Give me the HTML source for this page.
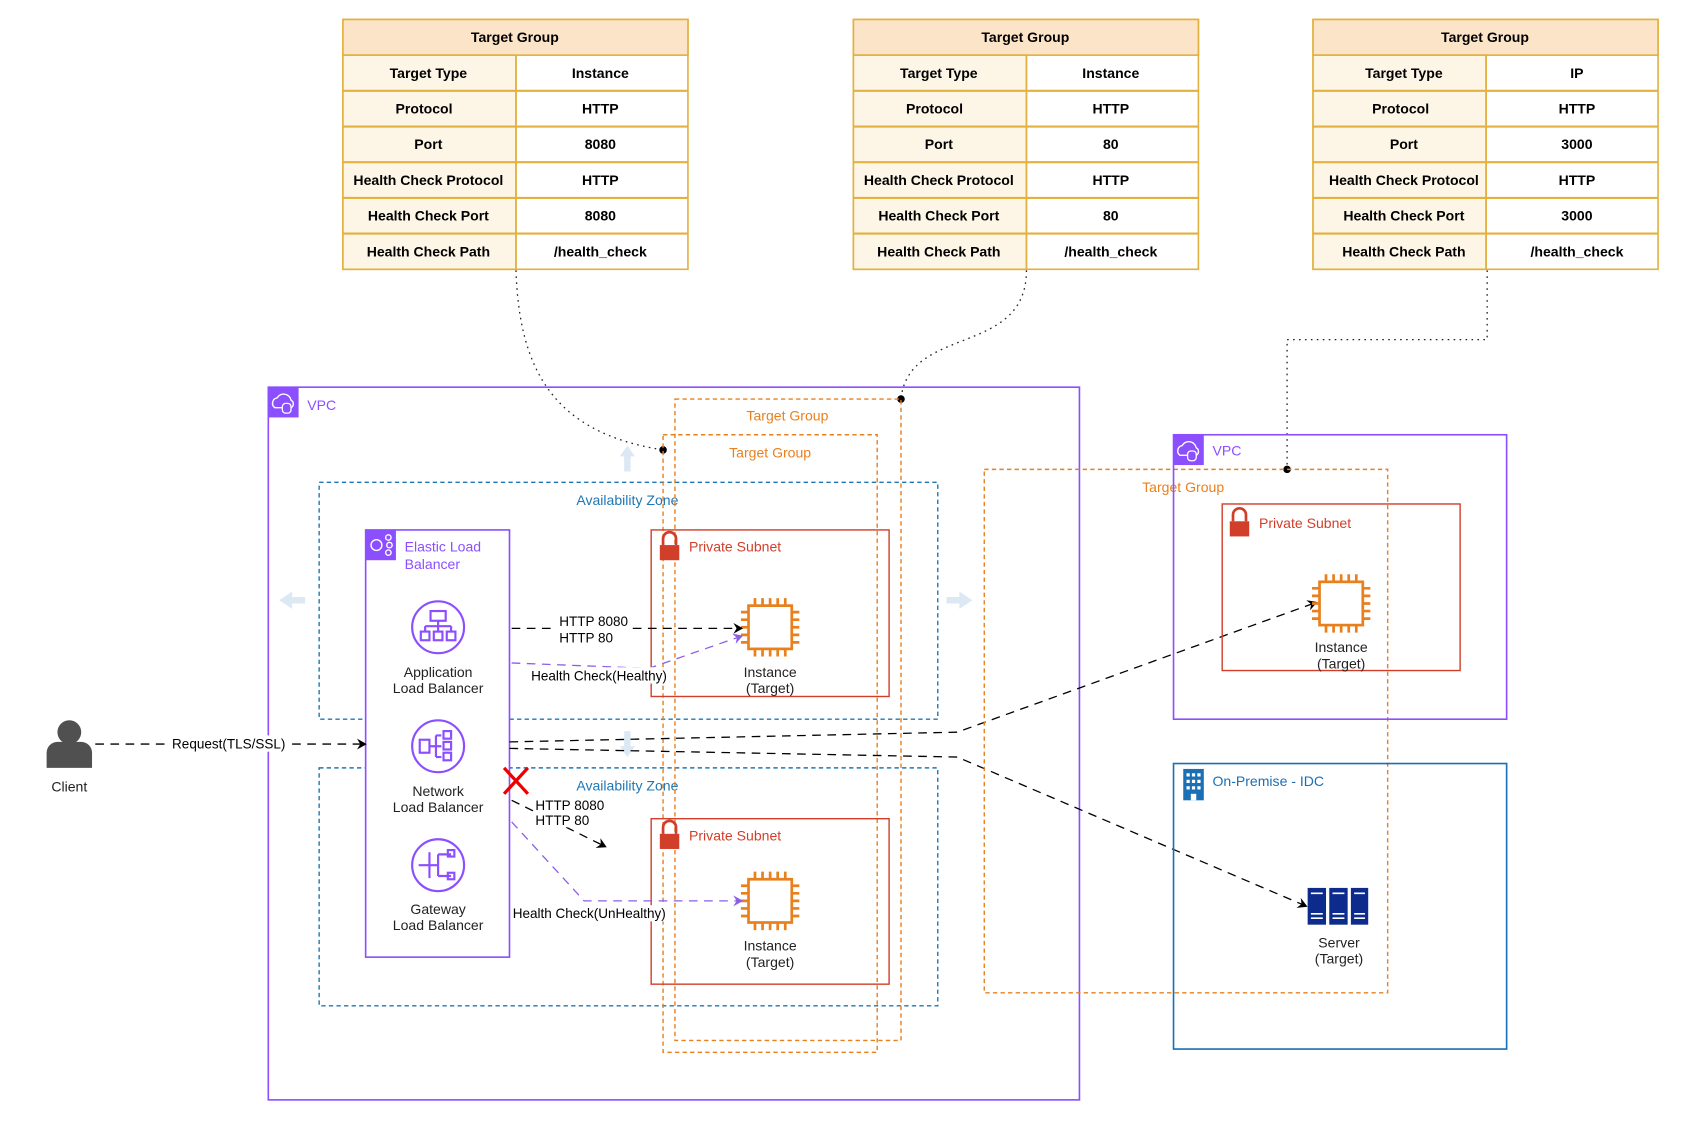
<!DOCTYPE html>
<html><head><meta charset="utf-8"><style>
html,body{margin:0;padding:0;background:#fff;}
svg{display:block;}
text{font-family:"Liberation Sans",sans-serif;}
</style></head><body>
<svg width="1696" height="1128" viewBox="0 0 1568 1043" xmlns="http://www.w3.org/2000/svg">
<defs>
<marker id="ab" markerWidth="10" markerHeight="10" refX="8" refY="5" orient="auto" markerUnits="userSpaceOnUse"><path d="M0,0 L9,5 L0,10 L3,5z" fill="#000"/></marker>
<marker id="ap" markerWidth="10" markerHeight="10" refX="8" refY="5" orient="auto" markerUnits="userSpaceOnUse"><path d="M0,0 L9,5 L0,10 L3,5z" fill="#8c5ee8"/></marker>
<g id="chip"><g stroke="#e8801e" stroke-width="2.5" fill="none"><rect x="-20" y="-20" width="40" height="40" fill="#fff"/><path d="M-14,-20v-7M-7,-20v-7M0,-20v-7M7,-20v-7M14,-20v-7M-14,20v7M-7,20v7M0,20v7M7,20v7M14,20v7M-20,-14h-7M-20,-7h-7M-20,0h-7M-20,7h-7M-20,14h-7M20,-14h7M20,-7h7M20,0h7M20,7h7M20,14h7"/></g></g>
<g id="lock"><path d="M-6,0v-6a6,6 0 0 1 12,0v6" stroke="#d13f2a" stroke-width="2.5" fill="none"/><rect x="-9" y="0" width="18" height="14" fill="#d13f2a"/></g>
<g id="vpc"><rect x="0" y="0" width="28" height="28" fill="#8c4fff"/><path d="M6,19a5,5 0 0 1 2,-9a7,7 0 0 1 13,2a4,4 0 0 1 0,7z" stroke="#fff" fill="none" stroke-width="1.3"/><rect x="13" y="15" width="8" height="9" rx="3" stroke="#fff" fill="#8c4fff" stroke-width="1.2"/></g>
</defs>

<!-- Tables -->
<g font-size="13" text-anchor="middle" font-weight="bold">
<g id="t1">
<rect x="317" y="18" width="319" height="231" fill="#fff" stroke="#e3b13f" stroke-width="1.5"/>
<rect x="317" y="18" width="319" height="33" fill="#fce4c8" stroke="#e3b13f" stroke-width="1.5"/>
<rect x="317" y="51" width="160" height="198" fill="#fdf5e6" stroke="#e3b13f" stroke-width="1.5"/>
<path d="M317,84H636M317,117H636M317,150H636M317,183H636M317,216H636" stroke="#e3b13f" stroke-width="2"/>
<line x1="477" y1="51" x2="477" y2="249" stroke="#e3b13f" stroke-width="1.5"/>
</g>
<use href="#t1" x="472"/><use href="#t1" x="897"/>
<text x="476" y="39">Target Group</text>
<g transform="translate(0,0)"><text x="396" y="72">Target Type</text><text x="392" y="105">Protocol</text><text x="396" y="138">Port</text><text x="396" y="171">Health Check Protocol</text><text x="396" y="204">Health Check Port</text><text x="396" y="237">Health Check Path</text>
<text x="555" y="72">Instance</text><text x="555" y="105">HTTP</text><text x="555" y="138">8080</text><text x="555" y="171">HTTP</text><text x="555" y="204">8080</text><text x="555" y="237">/health_check</text></g>
<text x="948" y="39">Target Group</text>
<text x="868" y="72">Target Type</text><text x="864" y="105">Protocol</text><text x="868" y="138">Port</text><text x="868" y="171">Health Check Protocol</text><text x="868" y="204">Health Check Port</text><text x="868" y="237">Health Check Path</text>
<text x="1027" y="72">Instance</text><text x="1027" y="105">HTTP</text><text x="1027" y="138">80</text><text x="1027" y="171">HTTP</text><text x="1027" y="204">80</text><text x="1027" y="237">/health_check</text>
<text x="1373" y="39">Target Group</text>
<text x="1298" y="72">Target Type</text><text x="1295" y="105">Protocol</text><text x="1298" y="138">Port</text><text x="1298" y="171">Health Check Protocol</text><text x="1298" y="204">Health Check Port</text><text x="1298" y="237">Health Check Path</text>
<text x="1458" y="72">IP</text><text x="1458" y="105">HTTP</text><text x="1458" y="138">3000</text><text x="1458" y="171">HTTP</text><text x="1458" y="204">3000</text><text x="1458" y="237">/health_check</text>
</g>

<!-- dotted links -->
<g stroke="#222" stroke-width="1.2" stroke-dasharray="1.5,4" fill="none">
<path d="M477,250 C480,340 510,400 613,416"/>
<path d="M949,250 C949,330 840,300 833,369"/>
<path d="M1375,250 V314 H1190 V434"/>
</g>
<circle cx="613" cy="416" r="3.5"/><circle cx="833" cy="369" r="3.5"/><circle cx="1190" cy="434" r="3.5"/>

<!-- VPC 1 -->
<rect x="248" y="358" width="750" height="659" fill="none" stroke="#8c4fff" stroke-width="1.5"/>
<use href="#vpc" x="248" y="358"/>
<text x="284" y="379" font-size="13" fill="#8c4fff">VPC</text>

<!-- AZs -->
<rect x="295" y="446" width="572" height="219" fill="none" stroke="#1f77b4" stroke-width="1.3" stroke-dasharray="4,3"/>
<rect x="295" y="710" width="572" height="220" fill="none" stroke="#1f77b4" stroke-width="1.3" stroke-dasharray="4,3"/>
<text x="580" y="467" font-size="13" fill="#1f77b4" text-anchor="middle">Availability Zone</text>
<text x="580" y="731" font-size="13" fill="#1f77b4" text-anchor="middle">Availability Zone</text>

<!-- faint arrows -->
<g fill="#dce9f5"><path d="M258,555 l12,-8v5h12v6h-12v5z"/><path d="M899,555 l-12,-8v5h-12v6h12v5z"/><path d="M580,412 l-7,10h4v14h6v-14h4z"/><path d="M580,700 l-7,-10h4v-14h6v14h4z"/></g>

<!-- Target groups -->
<rect x="624" y="369" width="209" height="593" fill="none" stroke="#e8801e" stroke-width="1.3" stroke-dasharray="4,3"/>
<rect x="613" y="402" width="198" height="571" fill="none" stroke="#e8801e" stroke-width="1.3" stroke-dasharray="4,3"/>
<text x="728" y="389" font-size="13" fill="#e8801e" text-anchor="middle">Target Group</text>
<text x="712" y="423" font-size="13" fill="#e8801e" text-anchor="middle">Target Group</text>

<!-- Subnets -->
<rect x="602" y="490" width="220" height="154" fill="none" stroke="#d13f2a" stroke-width="1.3"/>
<rect x="602" y="757" width="220" height="153" fill="none" stroke="#d13f2a" stroke-width="1.3"/>
<use href="#lock" x="619" y="504"/><use href="#lock" x="619" y="771"/>
<text x="637" y="510" font-size="13" fill="#d13f2a">Private Subnet</text>
<text x="637" y="777" font-size="13" fill="#d13f2a">Private Subnet</text>
<use href="#chip" x="712" y="580"/><use href="#chip" x="712" y="833"/>
<g font-size="13" text-anchor="middle" fill="#222"><text x="712" y="626">Instance</text><text x="712" y="641">(Target)</text><text x="712" y="879">Instance</text><text x="712" y="894">(Target)</text></g>

<!-- ELB -->
<rect x="338" y="490" width="133" height="395" fill="#fff" stroke="#8c4fff" stroke-width="1.5"/>
<rect x="338" y="490" width="28" height="28" fill="#8c4fff"/>
<g stroke="#fff" fill="none" stroke-width="1.3"><circle cx="348" cy="504" r="5"/><circle cx="359" cy="497" r="2.5"/><circle cx="360" cy="504" r="2.5"/><circle cx="359" cy="511" r="2.5"/></g>
<text x="374" y="510" font-size="13" fill="#8c4fff">Elastic Load</text><text x="374" y="526" font-size="13" fill="#8c4fff">Balancer</text>
<g stroke="#8c4fff" stroke-width="2" fill="none">
<circle cx="405" cy="580" r="24"/><circle cx="405" cy="690" r="24"/><circle cx="405" cy="800" r="24"/>
<rect x="398" y="565" width="14" height="9"/><path d="M405,574v5M393,579h24M393,579v5M405,579v5M417,579v5"/><rect x="389" y="584" width="8" height="8"/><rect x="401" y="584" width="8" height="8"/><rect x="413" y="584" width="8" height="8"/>
<rect x="388" y="684" width="9" height="12"/><path d="M397,690h6M403,680v20M403,680h5M403,690h5M403,700h5"/><rect x="410" y="676" width="7" height="7"/><rect x="410" y="686" width="7" height="7"/><rect x="410" y="696" width="7" height="7"/>
<path d="M387,800h10M397,788v24M397,800h8M405,790h12M405,810h12M405,790v20"/><rect x="414" y="786" width="6" height="6"/><rect x="414" y="807" width="6" height="6"/>
</g>
<g font-size="13" text-anchor="middle" fill="#222"><text x="405" y="626">Application</text><text x="405" y="641">Load Balancer</text><text x="405" y="736">Network</text><text x="405" y="751">Load Balancer</text><text x="405" y="845">Gateway</text><text x="405" y="860">Load Balancer</text></g>

<!-- Client -->
<circle cx="64" cy="677" r="11" fill="#505050"/><path d="M43,710 v-14 a10,10 0 0 1 10,-10 h22 a10,10 0 0 1 10,10 v14z" fill="#505050"/>
<text x="64" y="732" font-size="13" text-anchor="middle" fill="#222">Client</text>

<!-- Connectors -->
<g stroke="#000" stroke-width="1.2" stroke-dasharray="8,6" fill="none">
<path d="M88,688 H338" marker-end="url(#ab)"/>
<path d="M473,581 H686" marker-end="url(#ab)"/>
<path d="M473,740 L560,783" marker-end="url(#ab)"/>
<path d="M471,686 L885,677 L1217,557" marker-end="url(#ab)"/>
<path d="M471,692 L885,700 L1208,838" marker-end="url(#ab)"/>
</g>
<g stroke="#8c5ee8" stroke-width="1.2" stroke-dasharray="8,6" fill="none">
<path d="M473,613 L600,618 L686,588" marker-end="url(#ap)"/>
<path d="M473,760 L540,833 L686,833" marker-end="url(#ap)"/>
</g>
<g font-size="12.5" fill="#000">
<rect x="157" y="680" width="110" height="15" fill="#fff"/><text x="159" y="692">Request(TLS/SSL)</text>
<rect x="513" y="566" width="70" height="30" fill="#fff"/><text x="517" y="579">HTTP 8080</text><text x="517" y="594">HTTP 80</text>
<rect x="490" y="617" width="130" height="15" fill="#fff"/><text x="491" y="629">Health Check(Healthy)</text>
<rect x="493" y="737" width="70" height="28" fill="#fff"/><text x="495" y="749">HTTP 8080</text><text x="495" y="763">HTTP 80</text>
<rect x="472" y="837" width="146" height="15" fill="#fff"/><text x="474" y="849">Health Check(UnHealthy)</text>
</g>
<path d="M466,710 L488,734 M488,710 L466,734" stroke="#e00" stroke-width="3"/>

<!-- right TG -->
<rect x="910" y="434" width="373" height="484" fill="none" stroke="#e8801e" stroke-width="1.3" stroke-dasharray="4,3"/>
<text x="1056" y="455" font-size="13" fill="#e8801e">Target Group</text>

<!-- VPC 2 -->
<rect x="1085" y="402" width="308" height="263" fill="none" stroke="#8c4fff" stroke-width="1.5"/>
<use href="#vpc" x="1085" y="402"/>
<text x="1121" y="421" font-size="13" fill="#8c4fff">VPC</text>
<rect x="1130" y="466" width="220" height="154" fill="none" stroke="#d13f2a" stroke-width="1.3"/>
<use href="#lock" x="1146" y="482"/>
<text x="1164" y="488" font-size="13" fill="#d13f2a">Private Subnet</text>
<use href="#chip" x="1240" y="558"/>
<text x="1240" y="603" font-size="13" text-anchor="middle" fill="#222">Instance</text><text x="1240" y="618" font-size="13" text-anchor="middle" fill="#222">(Target)</text>

<!-- On-prem -->
<rect x="1085" y="706" width="308" height="264" fill="none" stroke="#1a6fb5" stroke-width="1.5"/>
<rect x="1094" y="711" width="19" height="29" fill="#1a6fb5"/>
<g fill="#fff"><rect x="1097" y="715" width="3" height="3"/><rect x="1102" y="715" width="3" height="3"/><rect x="1107" y="715" width="3" height="3"/><rect x="1097" y="721" width="3" height="3"/><rect x="1102" y="721" width="3" height="3"/><rect x="1107" y="721" width="3" height="3"/><rect x="1097" y="727" width="3" height="3"/><rect x="1102" y="727" width="3" height="3"/><rect x="1107" y="727" width="3" height="3"/><rect x="1101" y="734" width="5" height="6"/></g>
<text x="1121" y="727" font-size="13" fill="#1a6fb5">On-Premise - IDC</text>
<g fill="#0d2b8c"><rect x="1209" y="821" width="17" height="34"/><rect x="1229" y="821" width="17" height="34"/><rect x="1249" y="821" width="16" height="34"/></g>
<g stroke="#fff" stroke-width="1.5"><path d="M1212,826h11M1232,826h11M1252,826h10M1212,845h11M1232,845h11M1252,845h10M1212,849h11M1232,849h11M1252,849h10"/></g>
<text x="1238" y="876" font-size="13" text-anchor="middle" fill="#222">Server</text><text x="1238" y="891" font-size="13" text-anchor="middle" fill="#222">(Target)</text>
</svg>
</body></html>
